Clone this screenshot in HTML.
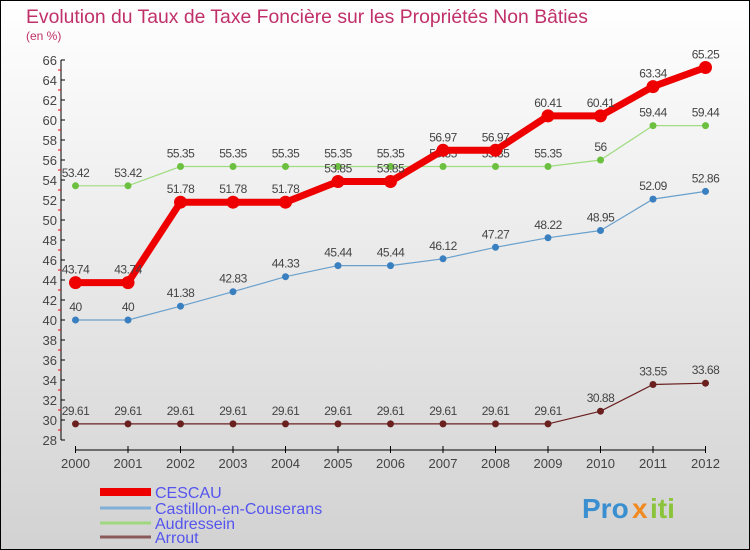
<!DOCTYPE html>
<html><head><meta charset="utf-8"><style>
body{margin:0}
svg{display:block;font-family:"Liberation Sans","DejaVu Sans",sans-serif}
</style></head><body>
<svg width="750" height="550" viewBox="0 0 750 550">
<defs><linearGradient id="bg" x1="0" y1="0" x2="0" y2="1"><stop offset="0" stop-color="#ffffff"/><stop offset="1" stop-color="#d2d2d2"/></linearGradient></defs>
<rect x="0.5" y="0.5" width="749" height="549" fill="url(#bg)" stroke="#000"/>
<text x="26" y="23" font-size="19.5" fill="#c0306a" textLength="562" lengthAdjust="spacingAndGlyphs">Evolution du Taux de Taxe Foncière sur les Propriétés Non Bâties</text>
<text x="26" y="40" font-size="12" fill="#c0306a">(en %)</text>
<g id="axes"></g><g id="series"></g><g id="legend"></g>
<g font-size="28" font-weight="bold">
<text x="582" y="518" fill="#3a8fd0">Pro</text><text x="632" y="518" fill="#f08a20">x</text><text x="650" y="518" fill="#8bc43a">iti</text>
</g>
</svg>
<script>
const years=["2000","2001","2002","2003","2004","2005","2006","2007","2008","2009","2010","2011","2012"];
const cescau=[43.74,43.74,51.78,51.78,51.78,53.85,53.85,56.97,56.97,60.41,60.41,63.34,65.25];
const castillon=[40,40,41.38,42.83,44.33,45.44,45.44,46.12,47.27,48.22,48.95,52.09,52.86];
const audressein=[53.42,53.42,55.35,55.35,55.35,55.35,55.35,55.35,55.35,55.35,56,59.44,59.44];
const arrout=[29.61,29.61,29.61,29.61,29.61,29.61,29.61,29.61,29.61,29.61,30.88,33.55,33.68];
const names=["CESCAU","Castillon-en-Couserans","Audressein","Arrout"];
const yTicks=[28,30,32,34,36,38,40,42,44,46,48,50,52,54,56,58,60,62,64,66];
const NS="http://www.w3.org/2000/svg";
const X=i=>75.5+i*52.5, Y=v=>440-(v-28)*10;
function mk(p,t,a){const e=document.createElementNS(NS,t);for(const k in a)e.setAttribute(k,a[k]);p.appendChild(e);return e;}
const ax=document.getElementById('axes');
let l=mk(ax,'line',{x1:61,y1:Y(66),x2:61,y2:Y(28),stroke:'#000'});


yTicks.forEach(v=>{
  mk(ax,'line',{x1:61,y1:Y(v),x2:65,y2:Y(v),stroke:'#000'});
  if(v<66)mk(ax,'line',{x1:58,y1:Y(v+1),x2:61,y2:Y(v+1),stroke:'#e00'});
  const t=mk(ax,'text',{x:57,y:Y(v)+5,'font-size':13,'text-anchor':'end',fill:'#444'});t.textContent=v;
  
  
});
l=mk(ax,'line',{x1:X(0),y1:450,x2:X(12),y2:450,stroke:'#000'});


years.forEach((y,i)=>{
  mk(ax,'line',{x1:X(i),y1:446,x2:X(i),y2:453,stroke:'#000'});
  const t=mk(ax,'text',{x:X(i),y:468,'font-size':13,'text-anchor':'middle',fill:'#444'});t.textContent=y;
  
  
});
const se=document.getElementById('series');
const defs=[[arrout,'#6b2020','#6b2020',1.2,3.5],[castillon,'#6aa0cc','#3a80c0',1.2,3.5],[audressein,'#a0dc80','#6cc040',1.2,3.5],[cescau,'#ee0000','#ee0000',7,6.5]];
const snames=['arrout','castillon','audressein','cescau'];
defs.forEach((d,k)=>{
  const g=mk(se,'g',{});
  
  
  const pts=d[0].map((v,i)=>X(i)+','+Y(v)).join(' ');
  mk(g,'polyline',{points:pts,fill:'none',stroke:d[1],'stroke-width':d[3]});
  d[0].forEach((v,i)=>{
    const c=mk(g,'circle',{cx:X(i),cy:Y(v),r:d[4],fill:d[2]});
    
    
    const t=mk(g,'text',{x:X(i),y:Y(v)-9,'font-size':12,'text-anchor':'middle',fill:'#444','letter-spacing':'-0.5'});t.textContent=v;
    
    
  });
});
const lg=document.getElementById('legend');
const lc=['#ee0000','#80b0d8','#a0d880','#8a5a5a'],lw=[8,3,3,3],ly=[492,508,523,537];
names.forEach((n,i)=>{
  const g=mk(lg,'g',{});
  
  
  mk(g,'line',{x1:100,y1:ly[i],x2:151,y2:ly[i],stroke:lc[i],'stroke-width':lw[i]});
  const t=mk(g,'text',{x:155,y:ly[i]+6,'font-size':16,fill:'#5555ee'});t.textContent=n;
});
</script>
</body></html>
